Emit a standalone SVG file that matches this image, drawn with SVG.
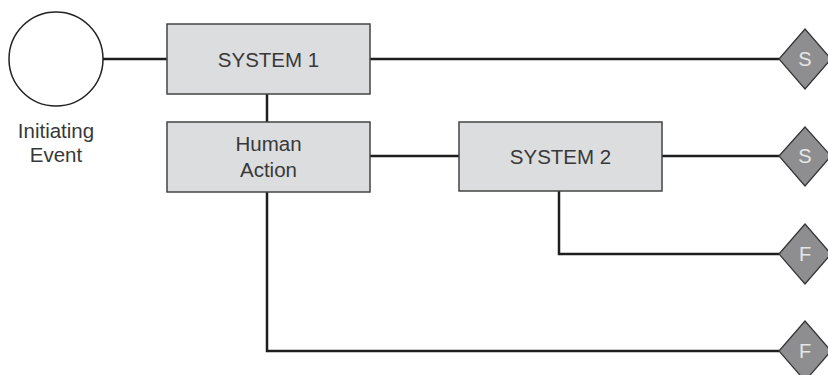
<svg xmlns="http://www.w3.org/2000/svg" width="828" height="375" viewBox="0 0 828 375">
<style>
.box{fill:#dcdddf;stroke:#444;stroke-width:1.5}
.dia{fill:#8e8e90;stroke:#333;stroke-width:1.2}
.ln{fill:none;stroke:#1e1e1e;stroke-width:2.5}
.t{font-family:"Liberation Sans",Arial,sans-serif;font-size:20.5px;fill:#383838;text-anchor:middle}
.dt{font-family:"Liberation Sans",Arial,sans-serif;font-size:20px;fill:#e6e6e6;text-anchor:middle}
</style>
<rect width="828" height="375" fill="#fff"/>
<g id="connectors">
<path class="ln" d="M103,59 H167"/>
<path class="ln" d="M370,59 H779"/>
<path class="ln" d="M267,94 V122"/>
<path class="ln" d="M370,156 H459"/>
<path class="ln" d="M662,156 H779"/>
<path class="ln" d="M559,191 V254 H779"/>
<path class="ln" d="M267,192 V351 H779"/>
</g>
<g id="initiating-event">
<circle cx="56" cy="59" r="47" fill="#fff" stroke="#222" stroke-width="1.5"/>
<text class="t" x="56" y="138">Initiating</text>
<text class="t" x="56" y="162">Event</text>
</g>
<g id="system1">
<rect class="box" x="167" y="24" width="203" height="70"/>
<text class="t" x="268.5" y="66.5">SYSTEM 1</text>
</g>
<g id="human-action">
<rect class="box" x="167" y="122" width="203" height="70"/>
<text class="t" x="268.5" y="150.5">Human</text>
<text class="t" x="268.5" y="176.5">Action</text>
</g>
<g id="system2">
<rect class="box" x="459" y="122" width="203" height="69"/>
<text class="t" x="560.5" y="163.5">SYSTEM 2</text>
</g>
<g id="end-s1">
<polygon class="dia" points="779,59 805,29 831,59 805,89"/>
<text class="dt" x="805" y="66">S</text>
</g>
<g id="end-s2">
<polygon class="dia" points="779,156 805,127 831,156 805,186"/>
<text class="dt" x="805" y="163">S</text>
</g>
<g id="end-f1">
<polygon class="dia" points="779,254 805,224 831,254 805,284"/>
<text class="dt" x="805" y="261">F</text>
</g>
<g id="end-f2">
<polygon class="dia" points="779,351 805,321 831,351 805,381"/>
<text class="dt" x="805" y="358">F</text>
</g>
</svg>
